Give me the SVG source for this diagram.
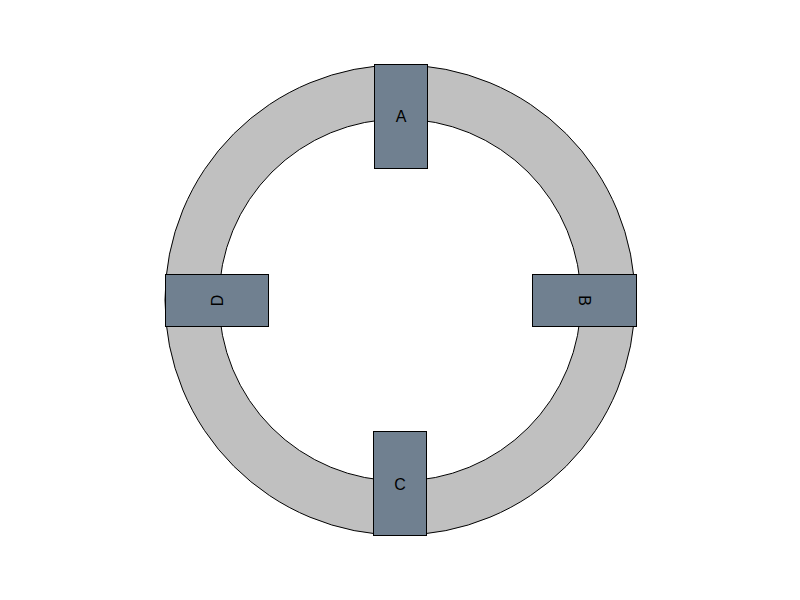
<svg xmlns="http://www.w3.org/2000/svg" width="800" height="600" viewBox="0 0 800 600">
<style>
.box{fill:#708090;stroke:#000;stroke-width:1}
.lbl{font-family:"Liberation Sans",Arial,sans-serif;font-size:16px;fill:#000;text-anchor:middle;dominant-baseline:central}
</style>
<rect width="800" height="600" fill="#fff"/>
<g id="ring">
<path d="M165,300 A235,235 0 1,0 635,300 A235,235 0 1,0 165,300 Z M219,300 A181,181 0 1,0 581,300 A181,181 0 1,0 219,300 Z" fill="#c0c0c0" fill-rule="evenodd" stroke="#000" stroke-width="1"/>
</g>
<g id="A"><rect class="box" x="374.5" y="64.5" width="53" height="104"/><text class="lbl" x="401" y="116.5">A</text></g>
<g id="B"><rect class="box" x="532.5" y="274.5" width="104" height="52"/><text class="lbl" x="584.5" y="300.5" transform="rotate(90 584.5 300.5)">B</text></g>
<g id="C"><rect class="box" x="373.5" y="431.5" width="53" height="104"/><text class="lbl" x="400" y="484">C</text></g>
<g id="D"><rect class="box" x="165.5" y="274.5" width="103" height="52"/><text class="lbl" x="217" y="300.5" transform="rotate(-90 217 300.5)">D</text></g>
</svg>
